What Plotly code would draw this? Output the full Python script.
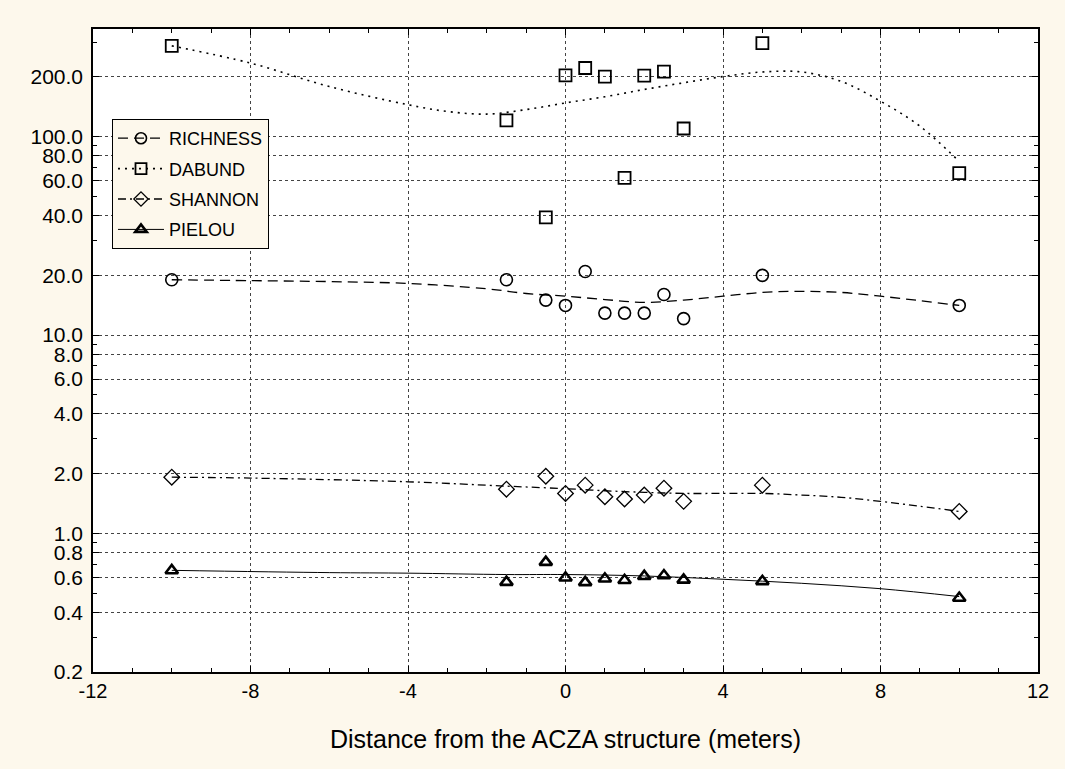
import plotly.graph_objects as go

# ---- data ----
X = [-10, -1.5, -0.5, 0, 0.5, 1, 1.5, 2, 2.5, 3, 5, 10]
RICHNESS = [19.0, 19.0, 15.0, 14.1, 20.9, 12.9, 12.9, 12.9, 16.0, 12.1, 20.0, 14.1]
DABUND = [287, 121, 39.2, 204, 222, 201, 62, 203, 213, 110, 296, 65.5]
SHANNON = [1.92, 1.67, 1.94, 1.59, 1.75, 1.53, 1.49, 1.56, 1.69, 1.45, 1.75, 1.29]
PIELOU = [0.65, 0.568, 0.716, 0.597, 0.566, 0.59, 0.58, 0.608, 0.613, 0.583, 0.573, 0.472]

# smoothed fit curves
FIT_DABUND_X = [-10, -8, -6, -4, -3, -2, -1, 0, 1, 2, 3, 4, 5, 6, 7, 8, 9, 10]
FIT_DABUND_Y = [287, 235, 179, 145, 134, 130, 137, 148, 159, 173, 187, 201, 212, 212, 190, 151, 113, 75]
FIT_RICH_X = [-10, -8, -6, -4, -2, -1, 0, 1, 2, 3, 4, 5, 6, 7, 8, 9, 10]
FIT_RICH_Y = [19.0, 18.8, 18.6, 18.2, 17.1, 16.2, 15.7, 15.1, 14.6, 15.0, 15.7, 16.4, 16.6, 16.4, 15.7, 14.9, 14.1]
FIT_SHAN_X = [-10, -8, -4, -1.5, 0, 1, 2, 3, 4, 5, 6, 7, 8, 9, 10]
FIT_SHAN_Y = [1.92, 1.90, 1.82, 1.73, 1.68, 1.64, 1.61, 1.59, 1.59, 1.59, 1.56, 1.52, 1.45, 1.37, 1.29]
FIT_PIEL_X = [-10, -6, -4, -1.5, 0, 2, 4, 6, 8, 10]
FIT_PIEL_Y = [0.651, 0.634, 0.63, 0.62, 0.62, 0.61, 0.587, 0.56, 0.526, 0.48]

SERIES_NAMES = ["RICHNESS", "DABUND", "SHANNON", "PIELOU"]
X_TICKS = [-12, -8, -4, 0, 4, 8, 12]
Y_TICKS = [0.2, 0.4, 0.6, 0.8, 1.0, 2.0, 4.0, 6.0, 8.0, 10.0, 20.0, 40.0, 60.0, 80.0, 100.0, 200.0]
Y_TICK_TEXT = ["0.2", "0.4", "0.6", "0.8", "1.0", "2.0", "4.0", "6.0", "8.0", "10.0",
               "20.0", "40.0", "60.0", "80.0", "100.0", "200.0"]
Y_MINOR = [0.3, 0.5, 0.7, 0.9, 3, 5, 7, 9, 30, 50, 70, 90, 300]

styles = {
    "RICHNESS": dict(symbol="circle-open", size=12, lw=1.6, dash="10px,6px", width=1.3),
    "DABUND": dict(symbol="square-open", size=12, lw=1.8, dash="2px,5px", width=1.6),
    "SHANNON": dict(symbol="diamond-open", size=12, lw=1.3, dash="8px,4px,2px,4px", width=1.3),
    "PIELOU": dict(symbol="triangle-up-open", size=11, lw=2.6, dash="solid", width=1.0),
}
pts = {"RICHNESS": RICHNESS, "DABUND": DABUND, "SHANNON": SHANNON, "PIELOU": PIELOU}
fits = {
    "RICHNESS": (FIT_RICH_X, FIT_RICH_Y),
    "DABUND": (FIT_DABUND_X, FIT_DABUND_Y),
    "SHANNON": (FIT_SHAN_X, FIT_SHAN_Y),
    "PIELOU": (FIT_PIEL_X, FIT_PIEL_Y),
}

fig = go.Figure()
for name in SERIES_NAMES:
    st = styles[name]
    fx, fy = fits[name]
    fig.add_trace(go.Scatter(x=fx, y=fy, mode="lines", line_shape="spline",
                             line=dict(color="black", width=st["width"], dash=st["dash"]),
                             showlegend=False, hoverinfo="skip"))
    fig.add_trace(go.Scatter(x=X, y=pts[name], mode="markers",
                             marker=dict(symbol=st["symbol"], size=st["size"], color="black",
                                         line=dict(color="black", width=st["lw"])),
                             showlegend=False))
    fig.add_trace(go.Scatter(x=[None], y=[None], mode="lines+markers", name=name,
                             legendgroup=name,
                             line=dict(color="black", width=st["width"], dash=st["dash"]),
                             marker=dict(symbol=st["symbol"], size=st["size"] - 1, color="black",
                                         line=dict(color="black", width=st["lw"]))))

axis_common = dict(showline=True, linecolor="black", linewidth=1.5, mirror="ticks",
                   ticks="inside", tickcolor="black", ticklen=6, tickwidth=1,
                   showgrid=True, gridcolor="#444", griddash="dot", gridwidth=1,
                   zeroline=False)

fig.update_xaxes(range=[-12, 12], tickvals=X_TICKS, ticktext=[str(v) for v in X_TICKS],
                 tickfont=dict(family="Liberation Sans, Arial, sans-serif", size=20, color="black"),
                 title=dict(text="Distance from the ACZA structure (meters)",
                            font=dict(family="Liberation Sans, Arial, sans-serif", size=25, color="black"),
                            standoff=30),
                 minor=dict(dtick=1, ticks="inside", ticklen=4, tickcolor="black", showgrid=False),
                 **axis_common)
fig.update_yaxes(type="log", range=[-0.699, 2.543], tickvals=Y_TICKS, ticktext=Y_TICK_TEXT,
                 tickfont=dict(family="Liberation Sans, Arial, sans-serif", size=21, color="black"),
                 ticklabelstandoff=4,
                 minor=dict(tickvals=Y_MINOR, ticks="inside", ticklen=4, tickcolor="black", showgrid=False),
                 **axis_common)

fig.update_layout(
    width=1065, height=769,
    margin=dict(l=93, r=27, t=29, b=97),
    paper_bgcolor="#fdf8ec", plot_bgcolor="white",
    font=dict(family="Liberation Sans, Arial, sans-serif", color="black"),
    legend=dict(x=0.0201, y=0.86, xanchor="left", yanchor="top",
                bgcolor="#fdf8ec", bordercolor="black", borderwidth=1,
                font=dict(family="Liberation Sans, Arial, sans-serif", size=18, color="black"),
                itemwidth=46, tracegroupgap=4),
    showlegend=True,
)

fig.write_html("out.html", config={"displayModeBar": False},
               post_script="document.body.style.margin='0';")
